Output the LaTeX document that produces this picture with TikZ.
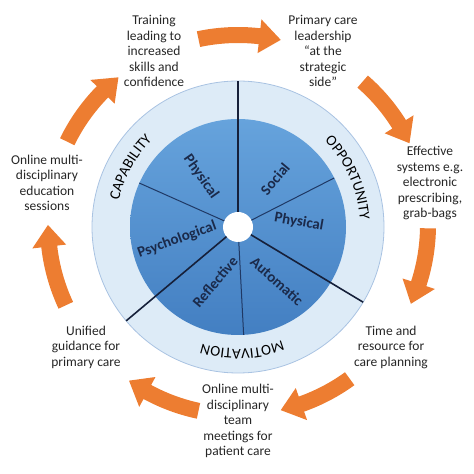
\documentclass[tikz,border=0pt]{standalone}
\usepackage{fontspec}
\setmainfont{Carlito}
\usetikzlibrary{decorations.text}
\definecolor{ringfill}{HTML}{DDEBF7}
\definecolor{ringline}{HTML}{A9C3E2}
\definecolor{innertop}{HTML}{66A3DC}
\definecolor{innerbot}{HTML}{437FC2}
\definecolor{divline}{HTML}{16203A}
\definecolor{subline}{HTML}{1F3864}
\definecolor{innertext}{HTML}{1B2A4A}
\definecolor{orangec}{HTML}{ED7D31}
\definecolor{labeltext}{HTML}{262626}
\newcommand\bendarrow[3]{%
  \fill[orangec] (#1:198) arc[start angle=#1, end angle={#2+#3}, radius=198]
    -- ({#2+#3}:207) -- (#2:190) -- ({#2+#3}:173) -- ({#2+#3}:182)
    arc[start angle={#2+#3}, end angle=#1, radius=182] -- cycle;}
\begin{document}
\begin{tikzpicture}[x=1pt,y=1pt,
  lbl/.style={align=center, font=\fontsize{13.5}{15.5}\selectfont, text=labeltext, inner sep=0pt},
  seg/.style={font=\bfseries\fontsize{15}{18}\selectfont, text=innertext, inner sep=0pt},
  mainline/.style={divline, line width=1.6pt},
  subdiv/.style={subline, line width=1pt},
  ringtext/.style={decorate, decoration={text along path, text align=center,
     text={|\fontsize{15}{18}\selectfont|#1}}}]
\useasboundingbox (0,0) rectangle (474,474);
\coordinate (C) at (238,247);
\coordinate (A) at (238,249);
% wheel
\begin{scope}[shift={(C)}]
  \fill[ringfill] (0,0) circle[radius=146];
  \draw[ringline, line width=0.8pt] (0,0) circle[radius=146];
  \shade[top color=innertop, bottom color=innerbot] (0,0) circle[radius=108];
  \fill[white] (0,0) circle[radius=15];
  \draw[subdiv] (156:15) -- (156:108);
  \draw[subdiv] (27:15) -- (27:108);
  \draw[subdiv] (-87:15) -- (-87:108);
  \draw[mainline] (90:15) -- (90:146);
  \draw[mainline] (-31:15) -- (-31:146);
  \draw[mainline] (220:15) -- (220:146);
  \path[ringtext=CAPABILITY] (186:122) arc[start angle=186, end angle=116, radius=122];
  \path[ringtext=OPPORTUNITY] (62:122) arc[start angle=62, end angle=-14, radius=122];
  \path[ringtext=MOTIVATION] (-52:122) arc[start angle=-52, end angle=-124, radius=122];
\end{scope}
% segment labels
\node[seg, rotate=-55] (capphys) at (201,297) {Physical};
\node[seg, rotate=50] (social) at (275,295) {Social};
\node[seg, rotate=-10] (oppphys) at (299,252) {Physical};
\node[seg, rotate=20] (psych) at (177,234) {Psychological};
\node[seg, rotate=50] (refl) at (215,192) {Reflective};
\node[seg, rotate=-42] (auto) at (277,193) {Automatic};
% arrows
\begin{scope}[shift={(A)}]
  \bendarrow{102}{77}{6.5}
  \bendarrow{49}{25.5}{6.5}
  \bendarrow{-1}{-24.5}{6.5}
  \bendarrow{-54}{-77}{6.5}
  \bendarrow{-102}{-125}{6.5}
  \bendarrow{-155}{-180}{6.5}
  \bendarrow{154}{129}{6.5}
\end{scope}
% outer labels
\node[lbl] (train) at (154,423) {Training\\leading to\\increased\\skills and\\confidence};
\node[lbl] (lead) at (323,423) {Primary care\\leadership\\“at the\\strategic\\side”};
\node[lbl] (eff) at (430,291) {Effective\\systems e.g.\\electronic\\prescribing,\\grab-bags};
\node[lbl] (time) at (391,127) {Time and\\resource for\\care planning};
\node[lbl] (mdt) at (238,53) {Online multi-\\disciplinary\\team\\meetings for\\patient care};
\node[lbl] (unif) at (86,127) {Unified\\guidance for\\primary care};
\node[lbl] (edu) at (47,291) {Online multi-\\disciplinary\\education\\sessions};
\end{tikzpicture}
\end{document}
